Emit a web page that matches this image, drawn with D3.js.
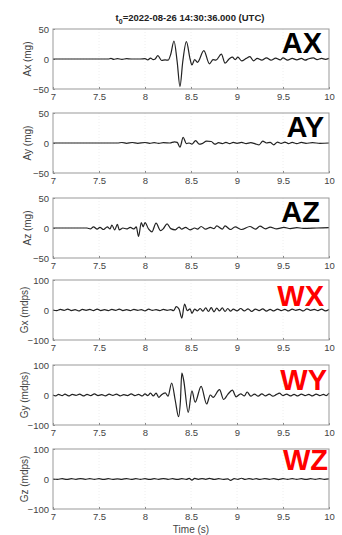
<!DOCTYPE html>
<html lang="en">
	<head>
		<meta charset="utf-8">
		<title>IMU record</title>
		<script type="text/javascript" src="https://cdn.jsdelivr.net/npm/d3@7"></script>
		<style type="text/css">
			body { margin:0; background:#fff; }
			text { font-family: "Liberation Sans", Arial, sans-serif; }
		</style>
	</head>
	<body>
		<script type="text/javascript">

		// time ticks shared by all panels
		var xTicks = [7, 7.5, 8, 8.5, 9, 9.5, 10];
		var titleText = "2022-08-26 14:30:36.000 (UTC)";

		// AX (mg)
		var axT = [7.00,7.60,7.63,7.66,7.70,7.75,7.80,7.85,7.95,8.00,8.03,8.06,8.09,8.11,8.14,8.18,8.22,8.25,8.28,8.315,8.35,8.38,8.41,8.45,8.49,8.51,8.54,8.57,8.64,8.70,8.74,8.77,8.83,8.87,8.92,8.95,8.98,9.01,9.05,9.10,9.14,9.18,9.22,9.27,9.32,9.37,9.42,9.47,9.50,9.55,9.60,9.65,9.70,9.74,9.78,9.83,9.87,9.92,9.96,10.0];
		var axV = [0,0,1,-0.5,0.5,-0.5,0.5,0,0,0.5,-1.5,1.5,-1,0,5.5,-2.5,-1.5,-2,8,30,-5,-46,-5,29,0,-10,-1,-5.5,14,-8,-1,-2,8,-7,1,3,-1,3,-3,1,4,-3,1,-2,2,-2,1.5,-1.5,2,-2,1,-1.5,1,-2,0.5,2,-1,1,-0.5,1];

		// AY (mg)
		var ayT = [7.0,7.7,7.75,7.8,7.86,7.92,8.0,8.05,8.1,8.15,8.2,8.27,8.32,8.35,8.38,8.415,8.45,8.48,8.51,8.55,8.59,8.62,8.67,8.72,8.76,8.80,8.84,8.88,8.92,8.96,9.00,9.05,9.10,9.15,9.20,9.24,9.28,9.32,9.36,9.40,9.44,9.48,9.52,9.56,9.60,9.65,9.70,9.75,9.82,9.90,10.0];
		var ayV = [0,0,0.8,-0.5,0.8,-0.5,0.8,-0.5,0.5,-0.5,0.5,0,2,1,-7,9.5,-1,0,-2,4,-2,-1,3,2.5,-2,0.5,-1,1,-1,1,-0.5,1,-1,0.5,-1.5,-3,3,0,1,-3,1.5,-0.5,1.5,-1,1,-1,1,-0.5,0.5,-0.5,0];

		// AZ (mg)
		var azT = [7.0,7.37,7.406,7.44,7.48,7.51,7.55,7.59,7.62,7.64,7.67,7.70,7.72,7.76,7.80,7.84,7.88,7.905,7.93,7.96,7.98,8.00,8.04,8.075,8.12,8.17,8.20,8.24,8.28,8.33,8.37,8.40,8.44,8.49,8.54,8.57,8.61,8.66,8.71,8.75,8.78,8.84,8.87,8.93,8.98,9.05,9.14,9.20,9.25,9.31,9.36,9.43,9.51,9.58,9.65,9.72,9.87,10.0];
		var azV = [0,0,-1.5,2,-2,1,-2.5,2,-1.5,5,-3,6,-3,0,-1.5,1,-1.5,2,-14,9,2,9,-2,-6.5,8,-4.5,-1,7,-1,-3,1.5,-2,1,-3,0,-2,2.5,-2,1,-1,3.5,-2,3.5,-2.5,2,-2.5,2.5,-2,3,-1.5,1.5,-1.5,1,-1,0.5,-0.5,0,0.5];

		// GX (mdps)
		var gxT = [7.00,7.04,7.08,7.12,7.16,7.20,7.24,7.28,7.32,7.36,7.40,7.44,7.48,7.52,7.56,7.60,7.64,7.68,7.72,7.76,7.80,7.84,7.88,7.92,7.96,8.00,8.04,8.08,8.12,8.16,8.20,8.24,8.28,8.31,8.34,8.37,8.40,8.43,8.46,8.49,8.51,8.54,8.57,8.60,8.63,8.66,8.69,8.72,8.75,8.78,8.81,8.84,8.87,8.90,8.93,8.96,9.00,9.04,9.08,9.12,9.16,9.20,9.24,9.28,9.32,9.36,9.40,9.44,9.48,9.52,9.56,9.60,9.64,9.68,9.72,9.76,9.80,9.84,9.88,9.92,9.96,10.0];
		var gxV = [0,-2,2,-1,3,-2,1,-3,2,-1,2,-2,3,-2,1,-2,2,-1,3,-2,1,-2,2,-1,1,-3,3,-1,1,-2,2,-1,1,-2,11,3,-27,20,-2,4,-11,3,-3,5,-4,7,-5,8,-6,6,-3,7,-5,5,-4,3,-3,5,-3,4,-5,3,-2,4,-4,2,-3,3,-2,2,-3,3,-1,2,-3,4,-1,2,-2,3,-3,2];

		// GY (mdps)
		var gyT = [7.00,7.03,7.06,7.10,7.13,7.17,7.21,7.25,7.29,7.33,7.37,7.41,7.45,7.49,7.53,7.57,7.61,7.65,7.69,7.73,7.77,7.81,7.85,7.89,7.93,7.97,8.00,8.03,8.06,8.09,8.12,8.15,8.18,8.22,8.25,8.29,8.33,8.365,8.385,8.40,8.42,8.47,8.51,8.545,8.61,8.67,8.71,8.74,8.81,8.855,8.90,8.95,8.99,9.04,9.08,9.11,9.15,9.19,9.23,9.27,9.31,9.35,9.39,9.43,9.46,9.50,9.54,9.58,9.62,9.66,9.70,9.74,9.78,9.82,9.86,9.90,9.94,9.97,10.0];
		var gyV = [0,-3,2,-2,3,-3,2,-1,3,-3,2,-2,4,-2,1,-3,3,-1,3,-3,1,-2,4,-2,2,-3,4,-2,6,-3,6,-8,1,7,-4,40,-20,-72,-20,73,50,-58,14,-24,29,-30,0,-8,18,-15,2,16,-6,4,-3,10,-4,3,-4,4,-3,3,-4,2,6,-2,3,-3,2,-3,3,-2,2,-3,3,-2,2,-2,6];

		// GZ (mdps)
		var gzT = [7.00,7.05,7.10,7.15,7.20,7.25,7.30,7.35,7.40,7.45,7.50,7.55,7.60,7.65,7.70,7.75,7.80,7.85,7.90,7.95,8.00,8.05,8.10,8.15,8.20,8.25,8.30,8.35,8.40,8.45,8.48,8.51,8.54,8.58,8.62,8.66,8.70,8.75,8.80,8.85,8.90,8.93,8.97,9.01,9.05,9.09,9.13,9.17,9.21,9.25,9.30,9.35,9.40,9.45,9.50,9.55,9.60,9.65,9.70,9.75,9.80,9.85,9.90,9.95,10.0];
		var gzV = [0,-1,1,-1.5,1,-1,1.5,-1,1,-1,1,-1.5,1,-1,0.5,-1,1.5,-1.5,1,-1,1,-1.5,1,-1,1.5,-1,1,-1.5,1,-1,2,-4,2,-1,1.5,-1,2,-1.5,1,-1,0.5,-4.5,1,-1,2.5,-1.5,1.5,-1,1,-1.5,1.5,-1,1,-2,1,-1,1,-1,1,-1.5,1,-1,1,-1,0.5];

		var names = ["AX","AY","AZ","WX","WY","WZ"];
		var yLabels = ["Ax (mg)","Ay (mg)","Az (mg)","Gx (mdps)","Gy (mdps)","Gz (mdps)"];
		var yTicksA = [-50, 0, 50];
		var yTicksG = [-100, 0, 100];

		var series = [
			{t:axT, v:axV, ticks:yTicksA},
			{t:ayT, v:ayV, ticks:yTicksA},
			{t:azT, v:azV, ticks:yTicksA},
			{t:gxT, v:gxV, ticks:yTicksG},
			{t:gyT, v:gyV, ticks:yTicksG},
			{t:gzT, v:gzV, ticks:yTicksG}
		];

		// layout
		var w = 342, h = 535, left = 53, right = 329, ph = 60;
		var tops = [29, 113, 198, 280, 365, 449];
		var labelX = [322, 324, 320, 324, 327, 328];
		var labelDy = [24, 24, 24, 26, 25, 21];

		var svg = d3.select("body")
				  .append("svg")
				  .attr("width", w)
				  .attr("height", h);

		var x = d3.scaleLinear().domain([7, 10]).range([left, right]);

		// title
		var title = svg.append("text")
				  .attr("x", (left + right) / 2 - 1)
				  .attr("y", 21)
				  .attr("text-anchor", "middle")
				  .attr("font-size", "9.5px")
				  .attr("font-weight", "bold")
				  .attr("fill", "#222");
		title.append("tspan").text("t");
		title.append("tspan").attr("font-size", "7px").attr("dy", 2.5).text("0");
		title.append("tspan").attr("dy", -2.5).text("=" + titleText);

		series.forEach(function(s, i) {
			var top = tops[i];
			var ymax = s.ticks[2];
			var y = d3.scaleLinear().domain([-ymax, ymax]).range([top + ph, top]);
			var g = svg.append("g");

			// faint grid
			g.selectAll(".gx").data(xTicks.slice(1, -1)).enter().append("line")
				.attr("x1", function(d){ return x(d); }).attr("x2", function(d){ return x(d); })
				.attr("y1", top).attr("y2", top + ph)
				.attr("stroke", "#eee").attr("stroke-dasharray", "1,2");
			g.append("line")
				.attr("x1", left).attr("x2", right).attr("y1", y(0)).attr("y2", y(0))
				.attr("stroke", "#eee").attr("stroke-dasharray", "1,2");

			// axes (ticks inside like matlab)
			var xa = g.append("g").attr("transform", "translate(0," + (top + ph) + ")")
				.call(d3.axisBottom(x).tickValues(xTicks).tickSize(-2).tickPadding(4).tickFormat(d3.format("")));
			var ya = g.append("g").attr("transform", "translate(" + left + ",0)")
				.call(d3.axisLeft(y).tickValues(s.ticks).tickSize(-2).tickPadding(4));
			[xa, ya].forEach(function(a) {
				a.select(".domain").remove();
				a.selectAll("line").attr("stroke", "#888");
				a.selectAll("text").attr("font-size", "9.5px").attr("fill", "#444")
					.attr("font-family", "Liberation Sans, Arial, sans-serif");
			});

			// signal
			var pts = s.t.map(function(t, k){ return [t, s.v[k]]; });
			g.append("path")
				.datum(pts)
				.attr("fill", "none")
				.attr("stroke", "#222")
				.attr("stroke-width", 1.2)
				.attr("d", d3.line()
					.x(function(d){ return x(d[0]); })
					.y(function(d){ return y(d[1]); })
					.curve(d3.curveMonotoneX));

			// box
			g.append("rect")
				.attr("x", left).attr("y", top)
				.attr("width", right - left).attr("height", ph)
				.attr("fill", "none").attr("stroke", "#999").attr("stroke-width", 1);

			// y label
			var lx = i < 3 ? 31 : 28;
			g.append("text")
				.attr("transform", "translate(" + lx + "," + (top + ph / 2) + ") rotate(-90)")
				.attr("text-anchor", "middle")
				.attr("font-size", "10px")
				.attr("fill", "#444")
				.text(yLabels[i]);

			// big channel name
			g.append("text")
				.attr("x", labelX[i])
				.attr("y", top + labelDy[i])
				.attr("text-anchor", "end")
				.attr("font-size", "29px")
				.attr("font-weight", "bold")
				.attr("fill", i < 3 ? "#000" : "#f00")
				.text(names[i]);
		});

		svg.append("text")
			.attr("x", (left + right) / 2)
			.attr("y", 533)
			.attr("text-anchor", "middle")
			.attr("font-size", "10px")
			.attr("fill", "#444")
			.text("Time (s)");
		</script>
	</body>
</html>
